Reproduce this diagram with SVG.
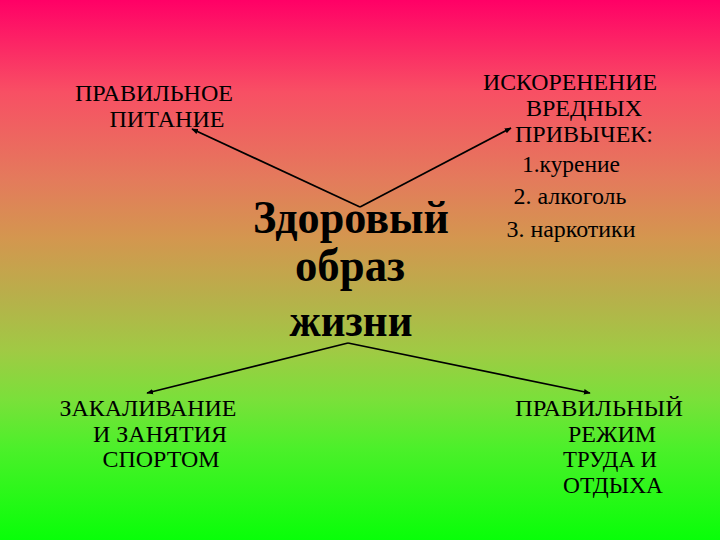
<svg xmlns="http://www.w3.org/2000/svg" width="720" height="540" viewBox="0 0 720 540">
<defs>
<linearGradient id="bg" x1="0" y1="0" x2="0" y2="1">
<stop offset="0" stop-color="#ff0066"/>
<stop offset="0.17" stop-color="#f84f64"/>
<stop offset="0.33" stop-color="#e47a5c"/>
<stop offset="0.44" stop-color="#d4964f"/>
<stop offset="0.56" stop-color="#b5b24a"/>
<stop offset="0.65" stop-color="#a0ca44"/>
<stop offset="0.74" stop-color="#7ae03a"/>
<stop offset="0.83" stop-color="#4cf02a"/>
<stop offset="1" stop-color="#08ff08"/>
</linearGradient>
<marker id="ah" viewBox="0 0 10 10" refX="9" refY="5" markerWidth="4" markerHeight="4" orient="auto" markerUnits="strokeWidth">
<path d="M0,1 L10,5 L0,9 Z" fill="#000"/>
</marker>
<style>
.t{font-family:"Liberation Serif","Times New Roman",serif;font-size:24px;fill:#000;text-anchor:middle}
.s{font-size:23px}
.c{font-family:"Liberation Serif","Times New Roman",serif;font-size:47px;font-weight:bold;fill:#000;text-anchor:middle}
.ln{stroke:#000;stroke-width:1.7;fill:none;marker-end:url(#ah)}
</style>
</defs>
<rect width="720" height="540" fill="url(#bg)"/>
<g id="connectors">
<line class="ln" x1="360" y1="207" x2="192" y2="129"/>
<line class="ln" x1="360" y1="207" x2="511" y2="128"/>
<line class="ln" x1="348" y1="343" x2="147" y2="393"/>
<line class="ln" x1="348" y1="343" x2="590" y2="393"/>
</g>
<g id="center">
<text class="c" x="351" y="233" textLength="196" lengthAdjust="spacingAndGlyphs">Здоровый</text>
<text class="c" x="350" y="281" textLength="110" lengthAdjust="spacingAndGlyphs">образ</text>
<text class="c" x="351" y="336" textLength="123" lengthAdjust="spacingAndGlyphs">жизни</text>
</g>
<g id="nutrition">
<text class="t" x="154" y="101" textLength="158" lengthAdjust="spacingAndGlyphs">ПРАВИЛЬНОЕ</text>
<text class="t" x="167" y="127" textLength="115" lengthAdjust="spacingAndGlyphs">ПИТАНИЕ</text>
</g>
<g id="habits">
<text class="t" x="570" y="90" textLength="174" lengthAdjust="spacingAndGlyphs">ИСКОРЕНЕНИЕ</text>
<text class="t" x="584" y="116" textLength="116" lengthAdjust="spacingAndGlyphs">ВРЕДНЫХ</text>
<text class="t" x="584" y="142" textLength="138" lengthAdjust="spacingAndGlyphs">ПРИВЫЧЕК:</text>
<text class="t s" x="571" y="172" textLength="98" lengthAdjust="spacingAndGlyphs">1.курение</text>
<text class="t s" x="570" y="204" textLength="113" lengthAdjust="spacingAndGlyphs">2. алкоголь</text>
<text class="t s" x="571" y="237" textLength="129" lengthAdjust="spacingAndGlyphs">3. наркотики</text>
</g>
<g id="sport">
<text class="t" x="148" y="416" textLength="177" lengthAdjust="spacingAndGlyphs">ЗАКАЛИВАНИЕ</text>
<text class="t" x="160" y="442" textLength="134" lengthAdjust="spacingAndGlyphs">И ЗАНЯТИЯ</text>
<text class="t" x="161" y="467" textLength="117" lengthAdjust="spacingAndGlyphs">СПОРТОМ</text>
</g>
<g id="regime">
<text class="t" x="599" y="416" textLength="168" lengthAdjust="spacingAndGlyphs">ПРАВИЛЬНЫЙ</text>
<text class="t" x="612" y="442" textLength="88" lengthAdjust="spacingAndGlyphs">РЕЖИМ</text>
<text class="t" x="610" y="467" textLength="94" lengthAdjust="spacingAndGlyphs">ТРУДА И</text>
<text class="t" x="613" y="493" textLength="100" lengthAdjust="spacingAndGlyphs">ОТДЫХА</text>
</g>
</svg>
